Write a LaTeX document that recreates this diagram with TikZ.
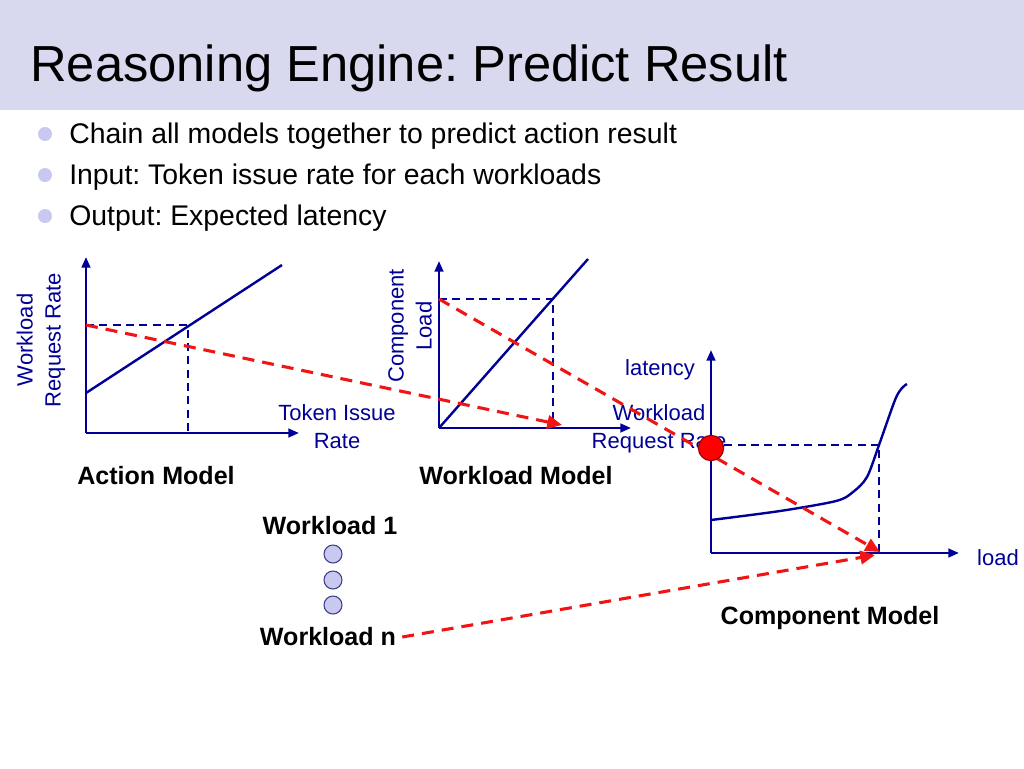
\documentclass[tikz,border=0pt]{standalone}
\usepackage{fontspec}
\setmainfont{Liberation Sans}
\usetikzlibrary{arrows.meta}
\definecolor{navy}{RGB}{0,0,150}
\definecolor{redd}{RGB}{240,20,20}
\definecolor{barbg}{RGB}{216,216,238}
\definecolor{bul}{RGB}{200,200,240}
\frenchspacing
\begin{document}
\begin{tikzpicture}[x=0.75pt,y=-0.75pt,
  axis/.style={navy, line width=1.8pt, -{Triangle[length=8pt,width=6.5pt]}},
  curve/.style={navy, line width=1.8pt},
  guide/.style={navy, line width=1.5pt, dash pattern=on 6pt off 4pt},
  flow/.style={redd, line width=2.3pt, dash pattern=on 9pt off 6pt, -{Triangle[length=11pt,width=10pt]}},
  lab/.style={navy, font=\fontsize{16.5}{21}\selectfont, align=center, inner sep=0pt},
  mlab/.style={font=\bfseries\fontsize{18.8}{22}\selectfont, inner sep=0pt},
  btext/.style={font=\fontsize{21.3}{25}\selectfont, anchor=base west, inner sep=0pt},
  bdot/.style={circle, fill=bul, inner sep=0pt, minimum size=10.5pt},
  wdot/.style={circle, fill=bul, draw=navy!50!gray, line width=0.8pt, inner sep=0pt, minimum size=13.5pt}]
\useasboundingbox (0,0) rectangle (1024,768);
\fill[white] (0,0) rectangle (1024,768);
\fill[barbg] (0,0) rectangle (1024,110);
\node[anchor=base west, inner sep=0pt, font=\fontsize{38}{44}\selectfont] (title) at (30,81) {Reasoning Engine: Predict Result};
% bullets
\node[bdot] (b1) at (45,134) {};
\node[bdot] (b2) at (45,175) {};
\node[bdot] (b3) at (45,216) {};
\node[btext] (t1) at (69,143) {Chain all models together to predict action result};
\node[btext] (t2) at (69,184) {Input: Token issue rate for each workloads};
\node[btext] (t3) at (69,225) {Output: Expected latency};
% ---- Action model
\coordinate (ao) at (86,433);
\coordinate (ay) at (86,257);
\coordinate (ax) at (299,433);
\coordinate (al0) at (86,393);
\coordinate (al1) at (282,265);
\coordinate (ah) at (86,325);
\coordinate (ap) at (188,325);
\coordinate (ab) at (188,433);
\draw[axis] (ao) -- (ay);
\draw[axis] (ao) -- (ax);
\draw[curve] (al0) -- (al1);
\draw[guide] (ah) -- (ap) -- (ab);
\node[lab, rotate=90] (aylab) at (41,340) {Workload\\Request Rate};
\node[lab] (axlab) at (337,427) {Token Issue\\Rate};
\node[mlab] (am) at (156,476) {Action Model};
% ---- Workload model
\coordinate (wo) at (439,428);
\coordinate (wy) at (439,261);
\coordinate (wx) at (631,428);
\coordinate (wl1) at (588,259);
\coordinate (wh) at (439,299);
\coordinate (wp) at (553,299);
\coordinate (wb) at (553,428);
\draw[axis] (wo) -- (wy);
\draw[axis] (wo) -- (wx);
\draw[curve] (wo) -- (wl1);
\draw[guide] (wh) -- (wp) -- (wb);
\node[lab, rotate=90] (wylab) at (410,326) {Component\\Load};
\node[lab] (wxlab) at (659,429) {Workload\\Request Rate};
\node[mlab] (wm) at (516,476) {Workload Model};
% ---- Component model
\coordinate (co) at (711,553);
\coordinate (cy) at (711,350);
\coordinate (cx) at (959,553);
\coordinate (ch) at (711,445);
\coordinate (cp) at (879,445);
\coordinate (cb) at (879,553);
\draw[axis] (co) -- (cy);
\draw[axis] (co) -- (cx);
\draw[curve, line join=round] plot[smooth, tension=0.5] coordinates {(711,520) (780,511) (836,501) (853,492) (867,477) (879,445) (895,400) (902,388) (907,384)};
\draw[guide] (ch) -- (cp) -- (cb);
\node[lab] (clat) at (660,370) {latency};
\node[lab] (cload) at (998,558) {load};
\node[mlab] (cm) at (830,618) {Component Model};
% ---- Workloads
\node[mlab] (w1) at (330,526) {Workload 1};
\node[wdot] (d1) at (333,554) {};
\node[wdot] (d2) at (333,580) {};
\node[wdot] (d3) at (333,605) {};
\node[mlab] (wn) at (328,637) {Workload n};
% ---- red flows
\coordinate (f1e) at (562,425);
\coordinate (f2e) at (880,552);
\coordinate (f3e) at (875,555);
\draw[flow] (ah) -- (f1e);
\draw[flow] (wh) -- (f2e);
\draw[flow] ([xshift=4.5pt]wn.east) -- (f3e);
\node[circle, fill=red, draw=red!55!black, line width=0.8pt, inner sep=0pt, minimum size=19pt] (rc) at (711,448) {};
\end{tikzpicture}
\end{document}
